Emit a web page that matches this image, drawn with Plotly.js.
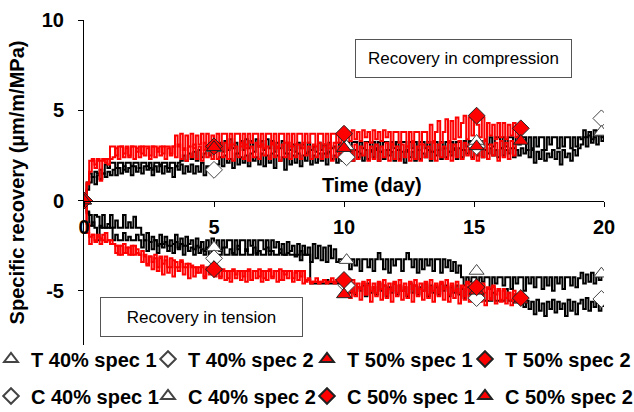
<!DOCTYPE html>
<html>
<head>
<meta charset="utf-8">
<script src="https://cdn.plot.ly/plotly-3.0.1.min.js"></script>
<style>
  html, body { margin: 0; padding: 0; background: #ffffff; }
  #chart { width: 634px; height: 412px; }
</style>
</head>
<body>
<div id="chart"></div>
<script>
// Logging times (day): 40% specimens run for 20 days, 50% specimens for 16.8 days
const timeLong = [0,
  0.1, 0.2, 0.3, 0.4, 0.5, 0.6, 0.7, 0.8, 0.9, 1.0,
  1.1, 1.2, 1.3, 1.4, 1.5, 1.6, 1.7, 1.8, 1.9, 2.0,
  2.1, 2.2, 2.3, 2.4, 2.5, 2.6, 2.7, 2.8, 2.9, 3.0,
  3.1, 3.2, 3.3, 3.4, 3.5, 3.6, 3.7, 3.8, 3.9, 4.0,
  4.1, 4.2, 4.3, 4.4, 4.5, 4.6, 4.7, 4.8, 4.9, 5.0,
  5.1, 5.2, 5.3, 5.4, 5.5, 5.6, 5.7, 5.8, 5.9, 6.0,
  6.1, 6.2, 6.3, 6.4, 6.5, 6.6, 6.7, 6.8, 6.9, 7.0,
  7.1, 7.2, 7.3, 7.4, 7.5, 7.6, 7.7, 7.8, 7.9, 8.0,
  8.1, 8.2, 8.3, 8.4, 8.5, 8.6, 8.7, 8.8, 8.9, 9.0,
  9.1, 9.2, 9.3, 9.4, 9.5, 9.6, 9.7, 9.8, 9.9, 10.0,
  10.1, 10.2, 10.3, 10.4, 10.5, 10.6, 10.7, 10.8, 10.9, 11.0,
  11.1, 11.2, 11.3, 11.4, 11.5, 11.6, 11.7, 11.8, 11.9, 12.0,
  12.1, 12.2, 12.3, 12.4, 12.5, 12.6, 12.7, 12.8, 12.9, 13.0,
  13.1, 13.2, 13.3, 13.4, 13.5, 13.6, 13.7, 13.8, 13.9, 14.0,
  14.1, 14.2, 14.3, 14.4, 14.5, 14.6, 14.7, 14.8, 14.9, 15.0,
  15.1, 15.2, 15.3, 15.4, 15.5, 15.6, 15.7, 15.8, 15.9, 16.0,
  16.1, 16.2, 16.3, 16.4, 16.5, 16.6, 16.7, 16.8, 16.9, 17.0,
  17.1, 17.2, 17.3, 17.4, 17.5, 17.6, 17.7, 17.8, 17.9, 18.0,
  18.1, 18.2, 18.3, 18.4, 18.5, 18.6, 18.7, 18.8, 18.9, 19.0,
  19.1, 19.2, 19.3, 19.4, 19.5, 19.6, 19.7, 19.8, 19.9, 20.0];

const timeShort = [0,
  0.1, 0.2, 0.3, 0.4, 0.5, 0.6, 0.7, 0.8, 0.9, 1.0,
  1.1, 1.2, 1.3, 1.4, 1.5, 1.6, 1.7, 1.8, 1.9, 2.0,
  2.1, 2.2, 2.3, 2.4, 2.5, 2.6, 2.7, 2.8, 2.9, 3.0,
  3.1, 3.2, 3.3, 3.4, 3.5, 3.6, 3.7, 3.8, 3.9, 4.0,
  4.1, 4.2, 4.3, 4.4, 4.5, 4.6, 4.7, 4.8, 4.9, 5.0,
  5.1, 5.2, 5.3, 5.4, 5.5, 5.6, 5.7, 5.8, 5.9, 6.0,
  6.1, 6.2, 6.3, 6.4, 6.5, 6.6, 6.7, 6.8, 6.9, 7.0,
  7.1, 7.2, 7.3, 7.4, 7.5, 7.6, 7.7, 7.8, 7.9, 8.0,
  8.1, 8.2, 8.3, 8.4, 8.5, 8.6, 8.7, 8.8, 8.9, 9.0,
  9.1, 9.2, 9.3, 9.4, 9.5, 9.6, 9.7, 9.8, 9.9, 10.0,
  10.1, 10.2, 10.3, 10.4, 10.5, 10.6, 10.7, 10.8, 10.9, 11.0,
  11.1, 11.2, 11.3, 11.4, 11.5, 11.6, 11.7, 11.8, 11.9, 12.0,
  12.1, 12.2, 12.3, 12.4, 12.5, 12.6, 12.7, 12.8, 12.9, 13.0,
  13.1, 13.2, 13.3, 13.4, 13.5, 13.6, 13.7, 13.8, 13.9, 14.0,
  14.1, 14.2, 14.3, 14.4, 14.5, 14.6, 14.7, 14.8, 14.9, 15.0,
  15.1, 15.2, 15.3, 15.4, 15.5, 15.6, 15.7, 15.8, 15.9, 16.0,
  16.1, 16.2, 16.3, 16.4, 16.5, 16.6, 16.7, 16.8];

// Compression, 40% stress level (black traces)
const compr40s1 = [0,
  0.6, 1.0, 1.3, 0.9, 1.4, 1.2, 1.5, 1.3, 1.6, 1.4,
  1.7, 1.4, 1.8, 1.5, 1.9, 1.6, 1.8, 1.4, 1.9, 1.6,
  1.8, 1.5, 1.9, 1.7, 1.8, 1.4, 1.9, 1.6, 2.0, 1.5,
  1.9, 1.6, 1.8, 1.3, 1.9, 1.7, 2.0, 1.5, 1.9, 1.6,
  2.0, 1.5, 1.9, 1.6, 2.1, 1.4, 1.9, 1.7, 1.6, 1.7,
  2.0, 2.4, 1.9, 2.5, 2.1, 2.3, 1.8, 2.6, 2.0, 2.4,
  2.1, 2.5, 1.9, 2.6, 2.2, 2.4, 2.0, 2.6, 1.9, 2.5,
  2.1, 2.6, 1.8, 2.5, 2.2, 2.4, 1.7, 2.6, 2.0, 2.5,
  2.1, 2.6, 1.9, 2.5, 2.2, 2.7, 2.0, 2.5, 2.1, 2.6,
  2.2, 2.6, 2.0, 2.7, 2.3, 2.5, 2.1, 2.6, 2.2, 2.4,
  2.3, 2.7, 2.2, 2.8, 2.4, 2.6, 2.2, 2.8, 2.3, 2.7,
  2.4, 2.8, 2.2, 2.7, 2.3, 2.8, 2.5, 2.7, 2.2, 2.8,
  2.3, 2.7, 2.1, 2.8, 2.4, 2.7, 2.2, 2.8, 2.3, 2.6,
  2.4, 2.8, 2.2, 2.7, 2.5, 2.8, 2.3, 2.9, 2.4, 2.7,
  2.5, 2.8, 2.3, 2.9, 2.4, 2.8, 2.6, 2.9, 2.4, 2.8,
  2.5, 2.9, 2.4, 2.8, 2.6, 2.9, 2.5, 2.8, 2.4, 2.9,
  2.5, 2.8, 2.6, 2.9, 2.4, 2.8, 2.5, 2.9, 2.6, 2.8,
  2.4, 2.8, 2.1, 2.7, 2.3, 2.8, 2.2, 2.6, 2.4, 2.8,
  2.3, 2.7, 2.0, 2.8, 2.4, 2.6, 2.2, 2.8, 2.5, 2.9,
  3.1, 3.5, 3.0, 3.6, 3.2, 3.5, 3.1, 3.7, 3.3, 3.6];

const compr40s2 = [0,
  1.0, 1.5, 1.3, 1.6, 1.5, 1.7, 1.5, 2.0, 1.8, 2.1,
  2.1, 1.8, 2.1, 2.1, 1.7, 2.1, 2.1, 1.9, 2.1, 2.1,
  1.8, 2.1, 2.1, 1.9, 2.1, 1.7, 2.1, 2.1, 1.9, 2.1,
  2.1, 1.8, 2.1, 2.1, 1.9, 2.1, 2.2, 2.5, 2.2, 2.6,
  2.3, 2.7, 2.2, 2.8, 2.4, 2.6, 2.9, 2.5, 2.8, 2.7,
  2.9, 3.2, 2.7, 3.3, 2.8, 3.4, 2.9, 3.2, 2.6, 3.3,
  2.8, 3.4, 2.9, 3.3, 2.7, 3.4, 3.0, 3.3, 2.8, 3.4,
  2.9, 3.3, 2.7, 3.2, 2.9, 3.3, 2.6, 3.2, 2.8, 3.1,
  2.7, 3.2, 2.9, 3.1, 2.6, 3.2, 2.8, 3.0, 2.7, 3.2,
  2.8, 3.1, 2.6, 3.2, 2.9, 3.0, 2.7, 3.2, 2.8, 3.1,
  3.25, 2.8, 3.25, 3.25, 2.7, 3.25, 2.9, 3.25, 3.25, 2.8,
  3.25, 2.9, 3.25, 2.7, 3.25, 3.25, 2.8, 3.25, 2.9, 3.25,
  2.8, 3.25, 3.25, 2.7, 3.25, 2.9, 3.25, 2.8, 3.25, 3.25,
  2.9, 3.25, 2.7, 3.25, 3.25, 2.8, 3.25, 2.9, 3.25, 2.7,
  3.25, 2.9, 3.25, 3.25, 2.8, 3.3, 3.0, 3.3, 2.9, 3.3,
  3.0, 3.3, 2.9, 3.3, 3.1, 3.5, 3.0, 3.5, 3.5, 2.9,
  3.5, 3.0, 3.5, 3.5, 2.9, 3.5, 3.1, 3.5, 3.5, 2.8,
  3.5, 2.9, 3.5, 3.0, 3.5, 3.5, 2.8, 3.5, 3.1, 3.5,
  3.5, 2.9, 3.5, 3.0, 3.5, 3.5, 2.9, 3.5, 3.0, 3.5,
  3.4, 3.9, 3.5, 3.8, 3.4, 3.9, 3.6, 3.9, 3.5, 3.8];

// Compression, 50% stress level (red traces)
const compr50s1 = [0,
  1.0, 2.2, 2.3, 2.0, 2.3, 2.2, 2.3, 2.1, 2.3, 3.0,
  3.0, 2.5, 3.0, 3.0, 2.6, 3.0, 2.4, 3.0, 3.0, 2.7,
  3.0, 2.6, 3.0, 3.0, 2.5, 3.0, 3.0, 2.7, 3.0, 2.6,
  3.0, 3.0, 2.6, 3.0, 3.6, 3.0, 3.7, 2.8, 3.6, 3.0,
  3.7, 2.9, 3.6, 3.1, 3.7, 2.8, 3.7, 3.0, 3.6, 3.2,
  3.7, 3.0, 3.7, 3.7, 2.9, 3.7, 3.1, 3.7, 3.7, 3.0,
  3.7, 2.9, 3.7, 3.2, 3.7, 3.7, 3.0, 3.7, 2.9, 3.7,
  3.7, 3.1, 3.7, 2.9, 3.7, 3.7, 3.2, 3.7, 3.0, 3.7,
  3.1, 3.7, 3.7, 2.9, 3.7, 3.2, 3.7, 3.7, 3.0, 3.7,
  3.7, 3.1, 3.7, 2.9, 3.7, 3.7, 3.2, 3.7, 3.0, 3.7,
  3.8, 3.3, 3.9, 3.4, 3.8, 3.3, 3.9, 3.5, 3.8, 3.2,
  3.9, 3.4, 3.8, 3.3, 3.9, 3.5, 3.8, 3.1, 3.8, 3.8,
  3.2, 3.8, 3.8, 3.0, 3.8, 3.3, 3.8, 3.8, 3.1, 3.8,
  3.8, 3.2, 4.2, 3.3, 3.8, 4.4, 3.2, 3.8, 4.5, 3.3,
  4.4, 3.4, 4.6, 3.5, 4.3, 4.7, 3.4, 4.6, 3.6, 4.7,
  4.2, 3.5, 4.6, 3.4, 4.3, 3.6, 4.2, 3.4, 4.3, 3.5,
  4.3, 3.4, 4.2, 3.6, 4.3, 3.5, 4.1, 4.0];

const compr50s2 = [0,
  0.9, 1.6, 2.2, 1.8, 2.2, 1.1, 2.2, 2.3, 2.0, 2.3,
  2.4, 2.9, 2.3, 3.0, 2.4, 2.9, 2.5, 3.0, 2.3, 2.9,
  2.4, 3.0, 2.5, 2.9, 2.3, 3.0, 2.4, 2.9, 2.5, 3.0,
  2.3, 2.9, 2.5, 3.0, 2.4, 3.1, 2.3, 2.9, 2.2, 3.0,
  2.4, 3.1, 2.3, 3.0, 2.2, 3.2, 2.4, 2.9, 2.3, 3.1,
  2.3, 3.0, 2.4, 3.2, 2.3, 3.1, 2.2, 3.0, 2.4, 3.2,
  2.3, 3.1, 2.2, 3.0, 2.4, 3.2, 2.3, 3.1, 2.5, 3.0,
  2.3, 3.2, 2.4, 3.0, 2.2, 3.1, 2.4, 3.2, 2.3, 3.0,
  2.4, 3.1, 2.3, 3.2, 2.5, 3.0, 2.3, 3.1, 2.4, 3.2,
  2.3, 3.0, 2.4, 3.1, 2.2, 3.2, 2.4, 3.0, 2.3, 3.1,
  2.4, 3.0, 2.2, 3.1, 2.3, 3.0, 2.5, 3.2, 2.2, 3.0,
  2.3, 3.1, 2.2, 3.0, 2.4, 3.2, 2.2, 3.1, 2.3, 3.0,
  2.2, 3.1, 2.4, 3.0, 2.2, 3.2, 2.3, 3.0, 2.2, 3.1,
  2.4, 3.0, 2.3, 3.2, 2.2, 3.1, 2.4, 3.0, 2.3, 3.2,
  2.2, 3.1, 2.4, 3.3, 2.3, 3.2, 2.5, 3.1, 2.3, 3.3,
  2.2, 3.2, 2.4, 3.3, 2.3, 3.1, 2.5, 3.2, 2.2, 3.3,
  2.4, 3.2, 2.3, 3.3, 2.5, 3.2, 3.3, 3.3];

// Tension, 40% stress level (black traces)
const tens40s1 = [0,
  -0.6, -0.8, -1.4, -0.8, -0.9, -1.5, -0.8, -1.5, -1.5, -0.8,
  -1.5, -1.1, -1.5, -1.5, -0.8, -1.5, -1.2, -1.5, -0.9, -1.5,
  -1.5, -1.9, -2.2, -1.8, -2.3, -2.0, -2.2, -2.5, -1.9, -2.4,
  -2.0, -2.5, -2.2, -2.4, -1.9, -2.6, -2.1, -2.5, -2.0, -2.4,
  -2.2, -2.7, -2.1, -2.6, -2.3, -2.8, -2.2, -2.7, -2.1, -2.5,
  -2.2, -2.8, -2.2, -2.6, -2.2, -2.2, -2.9, -2.2, -2.7, -2.2,
  -2.2, -2.8, -2.2, -2.5, -2.2, -2.9, -2.2, -2.2, -2.7, -2.2,
  -2.8, -2.2, -2.6, -2.3, -2.9, -2.4, -3.0, -2.3, -2.8, -2.5,
  -3.1, -2.4, -3.3, -2.5, -3.0, -2.6, -3.4, -2.4, -3.2, -2.5,
  -3.3, -2.6, -3.4, -2.5, -3.2, -2.7, -3.4, -3.25, -3.25, -3.25,
  -3.25, -3.8, -3.25, -3.6, -3.25, -3.9, -3.25, -3.25, -3.7, -3.25,
  -3.9, -3.25, -2.9, -3.25, -3.8, -3.25, -4.0, -3.25, -3.6, -3.25,
  -3.25, -3.9, -3.25, -2.9, -3.25, -3.7, -3.25, -4.0, -3.25, -3.8,
  -3.25, -3.6, -3.25, -3.9, -3.25, -3.25, -4.0, -3.25, -3.7, -3.3,
  -3.9, -3.4, -4.0, -3.6, -4.25, -4.7, -4.25, -4.5, -4.25, -4.25,
  -4.8, -4.25, -4.5, -4.25, -4.25, -4.9, -4.25, -4.6, -4.25, -4.25,
  -4.7, -4.25, -4.25, -4.9, -4.25, -4.6, -4.25, -4.25, -5.0, -4.25,
  -4.6, -4.25, -4.8, -4.25, -4.25, -4.9, -4.25, -4.7, -4.25, -5.0,
  -4.25, -4.6, -4.25, -4.9, -4.25, -4.25, -4.7, -4.25, -4.8, -4.3,
  -4.0, -4.6, -4.1, -4.5, -4.0, -4.6, -4.2, -4.4, -4.0, -4.0];

const tens40s2 = [0,
  -0.7, -1.4, -1.2, -1.5, -2.2, -1.4, -1.5, -1.5, -1.3, -1.5,
  -2.2, -1.9, -2.2, -2.2, -1.8, -2.2, -2.0, -2.2, -2.2, -1.9,
  -2.2, -2.6, -2.2, -2.8, -2.3, -2.7, -2.2, -2.9, -2.4, -2.6,
  -2.3, -2.8, -2.5, -2.9, -2.3, -2.7, -2.4, -3.0, -2.5, -2.8,
  -2.6, -3.0, -2.5, -2.9, -2.7, -3.0, -2.6, -3.0, -2.8, -3.0,
  -3.0, -3.0, -2.6, -3.0, -3.0, -2.7, -3.0, -3.0, -2.5, -3.0,
  -3.0, -2.7, -3.0, -3.0, -2.6, -3.0, -2.8, -3.0, -3.0, -2.6,
  -3.0, -2.8, -3.0, -3.0, -2.7, -3.0, -3.0, -2.9, -3.0, -3.0,
  -3.0, -3.0, -2.8, -3.0, -3.0, -3.0, -4.6, -4.6, -4.6, -4.6,
  -4.6, -4.6, -4.4, -4.6, -4.6, -4.6, -4.6, -4.5, -4.6, -4.6,
  -4.7, -5.1, -4.6, -5.2, -4.8, -5.0, -4.7, -5.3, -4.6, -5.1,
  -4.8, -5.2, -4.6, -5.0, -4.7, -5.3, -4.8, -5.1, -4.6, -5.2,
  -4.7, -5.0, -4.8, -5.3, -4.6, -5.1, -4.7, -5.2, -4.8, -5.0,
  -4.6, -5.3, -4.7, -5.1, -4.8, -5.2, -4.6, -5.0, -4.7, -5.3,
  -4.8, -5.1, -4.7, -5.2, -4.9, -5.4, -4.8, -5.2, -5.55, -5.55,
  -5.55, -5.55, -5.2, -5.55, -5.55, -5.55, -5.1, -5.55, -5.55, -5.55,
  -5.55, -4.9, -5.55, -5.55, -5.2, -5.55, -5.55, -5.55, -5.9, -5.55,
  -6.0, -5.6, -6.3, -5.5, -6.1, -5.7, -6.4, -5.6, -6.0, -5.5,
  -6.2, -5.6, -6.0, -5.7, -6.4, -5.5, -6.1, -5.6, -6.3, -5.7,
  -5.5, -6.0, -5.4, -6.1, -5.6, -5.9, -5.4, -6.1, -5.5, -5.9];

// Tension, 50% stress level (red traces)
const tens50s1 = [0,
  -1.8, -2.4, -1.9, -2.3, -2.0, -2.4, -1.9, -2.3, -2.2, -2.4,
  -2.4, -2.5, -3.0, -2.5, -2.9, -2.6, -3.0, -2.5, -3.0, -2.7,
  -3.0, -2.8, -3.1, -3.5, -3.1, -3.8, -3.2, -3.9, -3.1, -4.1,
  -3.3, -4.0, -3.2, -4.2, -3.4, -3.9, -3.3, -4.1, -3.5, -4.3,
  -3.6, -4.2, -3.7, -4.0, -3.6, -4.3, -3.8, -4.1, -3.7, -4.2,
  -3.9, -4.3, -3.8, -4.4, -3.9, -4.5, -3.8, -4.3, -3.9, -4.4,
  -3.9, -4.5, -3.8, -4.4, -3.9, -4.3, -3.8, -4.5, -3.9, -4.4,
  -3.8, -4.3, -3.9, -4.5, -3.8, -4.4, -3.9, -4.3, -3.9, -4.5,
  -4.0, -4.4, -3.9, -4.6, -4.5, -4.4, -4.6, -4.5, -4.5, -4.6,
  -4.5, -4.4, -4.6, -4.5, -4.5, -4.6, -4.4, -4.5, -4.6, -4.5,
  -4.7, -5.4, -4.6, -5.3, -4.8, -5.5, -4.6, -5.2, -4.7, -5.6,
  -4.8, -5.3, -4.6, -5.5, -4.7, -5.4, -4.9, -5.6, -4.6, -5.3,
  -4.7, -5.5, -4.8, -5.4, -4.6, -5.6, -4.7, -5.3, -4.9, -5.5,
  -4.6, -5.4, -4.8, -5.6, -4.7, -5.3, -4.6, -5.5, -4.8, -5.6,
  -4.7, -5.4, -4.9, -5.7, -4.8, -5.5, -4.6, -5.6, -4.9, -5.4,
  -4.8, -5.6, -4.7, -5.8, -4.9, -5.5, -4.8, -5.7, -5.0, -5.6,
  -4.9, -5.7, -5.1, -5.8, -5.0, -5.6, -5.5, -5.5];

const tens50s2 = [0,
  -1.3, -2.0, -1.9, -2.2, -1.9, -2.1, -2.2, -1.8, -2.2, -2.2,
  -2.4, -2.9, -2.5, -3.0, -2.4, -2.9, -2.6, -3.0, -2.5, -2.9,
  -3.0, -3.4, -3.0, -3.6, -3.1, -3.4, -3.0, -3.7, -3.2, -3.5,
  -3.1, -3.7, -3.7, -3.3, -3.7, -3.7, -3.4, -3.7, -3.7, -3.5,
  -3.7, -3.7, -4.0, -3.7, -3.7, -4.2, -3.7, -3.7, -3.9, -3.7,
  -3.9, -4.2, -3.9, -3.9, -4.3, -3.9, -3.9, -4.1, -3.9, -3.9,
  -4.2, -3.9, -3.9, -4.4, -3.9, -3.9, -4.2, -3.9, -4.3, -3.9,
  -3.9, -4.2, -3.9, -3.9, -4.4, -3.9, -4.1, -3.9, -3.9, -4.3,
  -3.9, -3.9, -4.2, -3.9, -4.4, -4.3, -4.5, -4.5, -4.3, -4.5,
  -4.5, -4.4, -4.5, -4.5, -4.3, -4.5, -4.5, -4.4, -4.5, -4.5,
  -4.5, -5.0, -4.4, -5.1, -4.6, -4.9, -4.5, -5.2, -4.4, -5.0,
  -4.6, -5.1, -4.5, -4.9, -4.4, -5.2, -4.6, -5.0, -4.5, -5.1,
  -4.4, -5.0, -4.6, -5.2, -4.5, -4.9, -4.4, -5.1, -4.6, -5.0,
  -4.5, -5.2, -4.4, -5.0, -4.6, -5.1, -4.5, -4.9, -4.4, -5.2,
  -4.6, -5.0, -4.5, -5.1, -4.7, -5.3, -4.5, -5.0, -4.6, -5.2,
  -4.7, -5.3, -4.6, -5.1, -4.8, -5.4, -4.7, -5.2, -4.9, -5.5,
  -5.0, -5.4, -5.1, -5.5, -5.2, -5.4, -5.45, -5.45];

// Readings marked with symbols (legend series)
const markDaysLong = [0, 5, 10.1, 15.1, 19.9];
const markDaysShort = [0, 5, 10, 15.1, 16.8];
const markT40s1 = [0, -2.6, -3.3, -3.9, -4.05];
const markT40s2 = [0, -3.2, -4.7, -5.4, -5.45];
const markT50s1 = [0, -3.7, -5.2, -5.0, -5.5];
const markT50s2 = [0, -3.8, -4.4, -4.8, -5.4];
const markC40s1 = [0, 1.7, 2.4, 3.0, 4.55];
const markC40s2 = [0, 2.9, 3.0, 3.3, 3.8];
const markC50s1 = [0, 3.0, 3.7, 4.7, 4.0];
const markC50s2 = [0, 2.95, 2.9, 3.0, 3.3];

const tickDays = [0, 5, 10, 15, 20];
const tickRecovery = [-5, 0, 5, 10];

const FONT = 'Liberation Sans, Arial, sans-serif';
const BLACK = '#000000';
const RED = '#ff0000';
const OPEN_EDGE = '#444444';
const FILL_EDGE = '#222222';

function trace(x, y, color) {
  return {
    x: x, y: y, type: 'scatter', mode: 'lines',
    line: { color: color, width: 2, shape: 'hv' },
    showlegend: false, hoverinfo: 'skip'
  };
}

function markers(name, legendId, x, y, symbol, fill, edge) {
  return {
    x: x, y: y, name: name, legend: legendId, type: 'scatter', mode: 'markers',
    marker: { symbol: symbol, size: 13, color: fill, line: { color: edge, width: 1 } }
  };
}

const data = [
  trace(timeLong, tens40s1, BLACK),
  trace(timeLong, tens40s2, BLACK),
  trace(timeLong, compr40s1, BLACK),
  trace(timeLong, compr40s2, BLACK),
  trace(timeShort, tens50s1, RED),
  trace(timeShort, tens50s2, RED),
  trace(timeShort, compr50s1, RED),
  trace(timeShort, compr50s2, RED),
  markers('T 40% spec 1', 'legend',  markDaysLong,  markT40s1, 'triangle-up', '#ffffff', OPEN_EDGE),
  markers('T 40% spec 2', 'legend2', markDaysLong,  markT40s2, 'diamond',     '#ffffff', OPEN_EDGE),
  markers('T 50% spec 1', 'legend3', markDaysShort, markT50s1, 'triangle-up', RED, FILL_EDGE),
  markers('T 50% spec 2', 'legend4', markDaysShort, markT50s2, 'diamond',     RED, FILL_EDGE),
  markers('C 40% spec 1', 'legend5', markDaysLong,  markC40s1, 'diamond',     '#ffffff', OPEN_EDGE),
  markers('C 40% spec 2', 'legend6', markDaysLong,  markC40s2, 'triangle-up', '#ffffff', OPEN_EDGE),
  markers('C 50% spec 1', 'legend7', markDaysShort, markC50s1, 'diamond',     RED, FILL_EDGE),
  markers('C 50% spec 2', 'legend8', markDaysShort, markC50s2, 'triangle-up', RED, FILL_EDGE)
];

const yMin = -8, yMax = 10;
const plotL = 84, plotR = 604, plotT = 20, plotB = 345;
const px2x = p => (p - plotL) / (plotR - plotL);
const px2y = p => (plotB - p) / (plotB - plotT);

// Legend is laid out as two rows of four entries
function legendBox(leftPx, rowPx) {
  return {
    orientation: 'h', x: px2x(leftPx), xanchor: 'left', y: px2y(rowPx), yanchor: 'middle',
    font: { family: FONT, size: 20, weight: 700, color: '#000000' },
    bgcolor: 'rgba(0,0,0,0)', borderwidth: 0, itemsizing: 'constant'
  };
}
const legendCols = [-9, 148, 307, 465];
const legendRows = [359, 396];

const layout = {
  width: 634, height: 412,
  margin: { l: plotL, r: 634 - plotR, t: plotT, b: 412 - plotB, autoexpand: false },
  paper_bgcolor: '#ffffff', plot_bgcolor: '#ffffff',
  font: { family: FONT, color: '#000000' },
  showlegend: true,
  legend:  legendBox(legendCols[0], legendRows[0]),
  legend2: legendBox(legendCols[1], legendRows[0]),
  legend3: legendBox(legendCols[2], legendRows[0]),
  legend4: legendBox(legendCols[3], legendRows[0]),
  legend5: legendBox(legendCols[0], legendRows[1]),
  legend6: legendBox(legendCols[1], legendRows[1]),
  legend7: legendBox(legendCols[2], legendRows[1]),
  legend8: legendBox(legendCols[3], legendRows[1]),
  xaxis: {
    range: [0, 20], tickvals: tickDays, ticktext: tickDays.map(String),
    anchor: 'free', position: (0 - yMin) / (yMax - yMin),
    showline: true, linecolor: '#000000', linewidth: 1,
    ticks: 'outside', ticklen: 5, tickcolor: '#000000', ticklabelstandoff: 3,
    tickfont: { family: FONT, size: 20, weight: 700 },
    showgrid: false, zeroline: false
  },
  yaxis: {
    range: [yMin, yMax], tickvals: tickRecovery, ticktext: tickRecovery.map(String),
    showline: true, linecolor: '#000000', linewidth: 1,
    ticks: 'outside', ticklen: 5, tickcolor: '#000000', ticklabelstandoff: 10,
    tickfont: { family: FONT, size: 20, weight: 700 },
    showgrid: false, zeroline: false,
    title: { text: 'Specific recovery (µm/m/MPa)', standoff: 11,
             font: { family: FONT, size: 20, weight: 700 } }
  },
  annotations: [
    { text: 'Time (day)', xref: 'paper', yref: 'paper', x: px2x(372), y: px2y(185),
      xanchor: 'center', yanchor: 'middle',
      showarrow: false, font: { family: FONT, size: 20, weight: 700 } },
    { text: 'Recovery in compression', xref: 'paper', yref: 'paper',
      x: px2x(463.5), y: px2y(58.5), xanchor: 'center', yanchor: 'middle',
      showarrow: false, width: 215, height: 37, borderpad: 0,
      bordercolor: '#555555', borderwidth: 1, bgcolor: '#ffffff',
      font: { family: FONT, size: 17, color: '#000000' } },
    { text: 'Recovery in tension', xref: 'paper', yref: 'paper',
      x: px2x(201.5), y: px2y(317), xanchor: 'center', yanchor: 'middle',
      showarrow: false, width: 201, height: 38, borderpad: 0,
      bordercolor: '#555555', borderwidth: 1, bgcolor: '#ffffff',
      font: { family: FONT, size: 17, color: '#000000' } }
  ]
};

Plotly.newPlot('chart', data, layout, { displayModeBar: false, staticPlot: true });
</script>
</body>
</html>
